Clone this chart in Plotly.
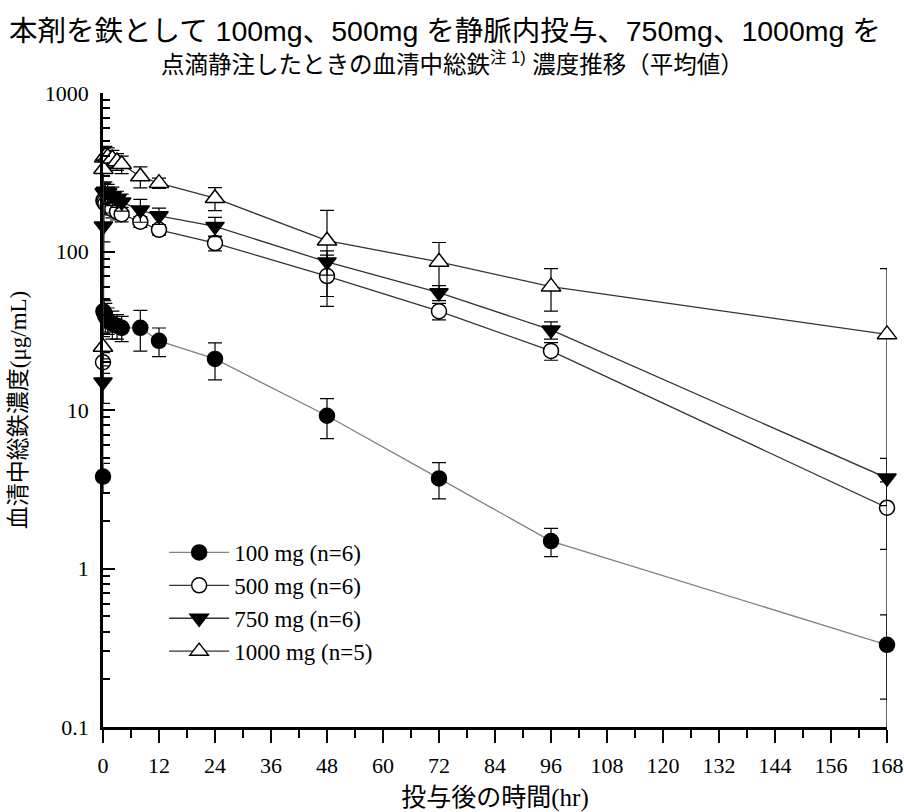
import plotly.graph_objects as go

# ---- data ----
time_hr = [0, 0.083, 0.25, 0.5, 1, 2, 3, 4, 8, 12, 24, 48, 72, 96, 168]

mg100 = [3.8, 42, 41, 39, 37, 35, 34, 33, 33, 27.3, 21, 9.2, 3.7, 1.49, 0.33]
sd100 = [0.8, 8, 8, 8, 7, 7, 6, 6, 9.5, 5.6, 5.5, 2.6, 0.95, 0.3, 0.18]

mg500 = [20, 210, 205, 200, 195, 185, 178, 172, 154, 137, 113, 70, 42, 23.6, 2.42]
sd500 = [3, 30, 30, 28, 25, 22, 20, 18, 12, 10, 12, 25, 5, 3, 1.1]

mg750 = [15, 145, 235, 240, 235, 225, 215, 205, 183, 168, 144, 86, 55, 32, 3.72]
sd750 = [4, 30, 35, 35, 30, 30, 25, 25, 30, 20, 20, 15, 6, 4, 1.23]

mg1000 = [25, 330, 390, 400, 395, 385, 370, 355, 297, 270, 217, 117, 86, 60, 30]
sd1000 = [4, 60, 60, 60, 55, 50, 45, 45, 45, 20, 36, 65, 28, 18, 48]

series_names = ["100 mg (n=6)", "500 mg (n=6)", "750 mg (n=6)", "1000 mg (n=5)"]

x_tickvals = list(range(0, 169, 12))
x_minorvals = list(range(6, 169, 12))
y_tickvals = [0.1, 1, 10, 100, 1000]
y_ticktext = ["0.1", "1", "10", "100", "1000"]
y_minorvals = [m * d for d in [0.1, 1, 10, 100] for m in range(2, 10)]

title_line1 = "本剤を鉄として 100mg、500mg を静脈内投与、750mg、1000mg を"
title_line2 = "点滴静注したときの血清中総鉄<sup>注 1)</sup> 濃度推移（平均値）"
x_title = "投与後の時間(hr)"
y_title = "血清中総鉄濃度(μg/mL)"

SERIF = "Liberation Serif, Noto Sans CJK JP, serif"
SANS = "Liberation Sans, Noto Sans CJK JP, sans-serif"

styles = [
    dict(symbol="circle", fill="black", size=15, lc="#808080"),
    dict(symbol="circle", fill="white", size=15, lc="#333333"),
    dict(symbol="triangle-down", fill="black", size=16, lc="#333333"),
    dict(symbol="triangle-up", fill="white", size=17, lc="#333333"),
]

fig = go.Figure()
for name, ys, sd, st in zip(series_names, [mg100, mg500, mg750, mg1000],
                            [sd100, sd500, sd750, sd1000], styles):
    fig.add_trace(go.Scatter(
        x=time_hr, y=ys, name=name, mode="lines+markers",
        line=dict(color=st["lc"], width=1.3),
        marker=dict(symbol=st["symbol"], size=st["size"], color=st["fill"],
                    line=dict(color="black", width=1.5)),
        error_y=dict(type="data", array=sd, visible=True, color="black", thickness=1.2, width=7),
        cliponaxis=False,
    ))

# plot area: x 103..887 px, y 93..727 px
def py(ypx):
    return (727 - ypx) / 634.0

fig.add_annotation(text=title_line1, xref="paper", yref="paper", x=(445 - 103) / 784.0, y=py(31),
                   xanchor="center", yanchor="middle", showarrow=False,
                   font=dict(family=SANS, size=28.5, color="black"))
fig.add_annotation(text=title_line2, xref="paper", yref="paper", x=(452 - 103) / 784.0, y=py(63),
                   xanchor="center", yanchor="middle", showarrow=False,
                   font=dict(family=SANS, size=23.5, color="black"))

fig.update_layout(
    width=904, height=812,
    margin=dict(l=103, r=17, t=93, b=85, autoexpand=False),
    paper_bgcolor="white", plot_bgcolor="white",
    showlegend=True,
    legend=dict(x=0.078, y=py(531), xanchor="left", yanchor="top",
                font=dict(family=SERIF, size=23, color="black"),
                bgcolor="rgba(0,0,0,0)", tracegroupgap=0, itemwidth=60),
    xaxis=dict(
        range=[0, 168], tickvals=x_tickvals, ticktext=[str(v) for v in x_tickvals],
        ticks="outside", ticklen=13, tickwidth=2, tickcolor="black", automargin=False,
        showline=True, linecolor="black", linewidth=3, showgrid=False, zeroline=False,
        tickfont=dict(family=SERIF, size=22, color="black"), ticklabelstandoff=4,
        minor=dict(tickvals=x_minorvals, ticks="outside", ticklen=8, tickwidth=2, tickcolor="black"),
        title=dict(text=x_title, font=dict(family=SERIF, size=25, color="black"), standoff=16),
    ),
    yaxis=dict(
        type="log", range=[-1, 3], tickvals=y_tickvals, ticktext=y_ticktext,
        ticks="inside", ticklen=12, tickwidth=2, tickcolor="black", automargin=False,
        showline=True, linecolor="black", linewidth=2.5, showgrid=False, zeroline=False,
        tickfont=dict(family=SERIF, size=22, color="black"), ticklabelstandoff=7,
        minor=dict(tickvals=y_minorvals, ticks="inside", ticklen=7, tickwidth=2, tickcolor="black"),
        title=dict(text=y_title, font=dict(family=SERIF, size=23, color="black"), standoff=12),
    ),
)

fig.write_html("out.html")
